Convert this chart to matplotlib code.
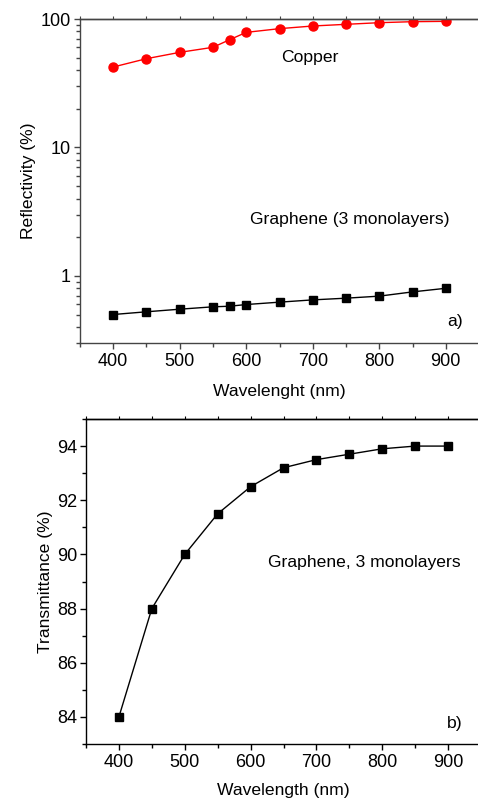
"""Reflectivity (log) and transmittance of 3-layer graphene vs wavelength."""

import matplotlib

matplotlib.use("Agg")
import matplotlib.pyplot as plt
from matplotlib.ticker import MultipleLocator, LogLocator, NullFormatter

# Panel a) reflectivity (%)
wl_refl = [400, 450, 500, 550, 575, 600, 650, 700, 750, 800, 850, 900]
copper = [42.3, 49.1, 55.0, 60.2, 69.0, 78.7, 84.1, 88.2, 90.9, 93.6, 95.3, 95.9]
graphene_refl = [0.50, 0.525, 0.55, 0.574, 0.58, 0.598, 0.624, 0.65, 0.67, 0.695, 0.75, 0.80]

# Panel b) transmittance (%)
wl_trans = [400, 450, 500, 550, 600, 650, 700, 750, 800, 850, 900]
graphene_trans = [84.0, 88.0, 90.0, 91.5, 92.5, 93.2, 93.5, 93.7, 93.9, 94.0, 94.0]

plt.rcParams.update(
    {
        "font.family": ["Liberation Sans", "DejaVu Sans"],
        "font.size": 12.6,
        "xtick.labelsize": 13,
        "ytick.labelsize": 13,
        "xtick.direction": "out",
        "ytick.direction": "out",
        "xtick.major.size": 4.5,
        "ytick.major.size": 4.5,
        "xtick.minor.size": 3,
        "ytick.minor.size": 3,
        "xtick.major.pad": 3,
        "ytick.major.pad": 2,
    }
)

W, H = 478, 801
fig = plt.figure(figsize=(W / 100, H / 100), dpi=100)


def px_axes(left, top, right, bottom):
    return fig.add_axes([left / W, 1 - bottom / H, (right - left) / W, (bottom - top) / H])


def top_ticks(ax, color):
    sec = ax.secondary_xaxis("top")
    sec.xaxis.set_major_locator(MultipleLocator(50))
    sec.tick_params(which="both", length=2, width=0.8, labeltop=False, color=color)
    sec.spines["top"].set_color(color)
    sec.spines["top"].set_linewidth(1.0)


# ---- panel a ----
ax1 = px_axes(80, 19, 479, 343)
gray = "#444444"
ax1.plot(wl_refl, copper, "-o", color="#ff0000", lw=1.0, ms=6.5, mec="#ff0000")
ax1.plot(wl_refl, graphene_refl, "-s", color="black", lw=1.0, ms=5.5)
ax1.set_yscale("log")
ax1.set_xlim(350, 950)
ax1.set_ylim(0.3, 100)
ax1.yaxis.set_major_locator(LogLocator(base=10))
ax1.yaxis.set_minor_locator(LogLocator(base=10, subs=range(2, 10)))
ax1.yaxis.set_minor_formatter(NullFormatter())
ax1.yaxis.set_major_formatter(plt.FuncFormatter(lambda v, _: f"{v:g}"))
ax1.xaxis.set_major_locator(MultipleLocator(100))
ax1.xaxis.set_minor_locator(MultipleLocator(50))
for s in ax1.spines.values():
    s.set_color(gray)
    s.set_linewidth(1.0)
ax1.tick_params(which="both", color=gray, width=1.0)
top_ticks(ax1, gray)
ax1.set_xlabel("Wavelenght (nm)")
ax1.set_ylabel("Reflectivity (%)")
ax1.xaxis.set_label_coords(0.5, -0.127)
ax1.yaxis.set_label_coords(-0.110, 0.5)
ax1.text(695, 50, "Copper", ha="center", va="center")
ax1.text(756, 2.73, "Graphene (3 monolayers)", ha="center", va="center")
ax1.text(0.94, 0.065, "a)", transform=ax1.transAxes, ha="center", va="center")

# ---- panel b ----
ax2 = px_axes(86, 419, 481, 744)
ax2.plot(wl_trans, graphene_trans, "-s", color="black", lw=1.0, ms=5.5)
ax2.set_xlim(350, 950)
ax2.set_ylim(83, 95)
ax2.xaxis.set_major_locator(MultipleLocator(100))
ax2.xaxis.set_minor_locator(MultipleLocator(50))
ax2.yaxis.set_major_locator(MultipleLocator(2))
ax2.yaxis.set_minor_locator(MultipleLocator(1))
for s in ax2.spines.values():
    s.set_linewidth(1.0)
ax2.tick_params(which="both", width=1.0)
top_ticks(ax2, "black")
ax2.set_xlabel("Wavelength (nm)")
ax2.set_ylabel("Transmittance (%)")
ax2.xaxis.set_label_coords(0.5, -0.12)
ax2.yaxis.set_label_coords(-0.0835, 0.5)
ax2.text(772, 89.7, "Graphene, 3 monolayers", ha="center", va="center")
ax2.text(0.934, 0.062, "b)", transform=ax2.transAxes, ha="center", va="center")

fig.savefig("out.png", dpi=100)
